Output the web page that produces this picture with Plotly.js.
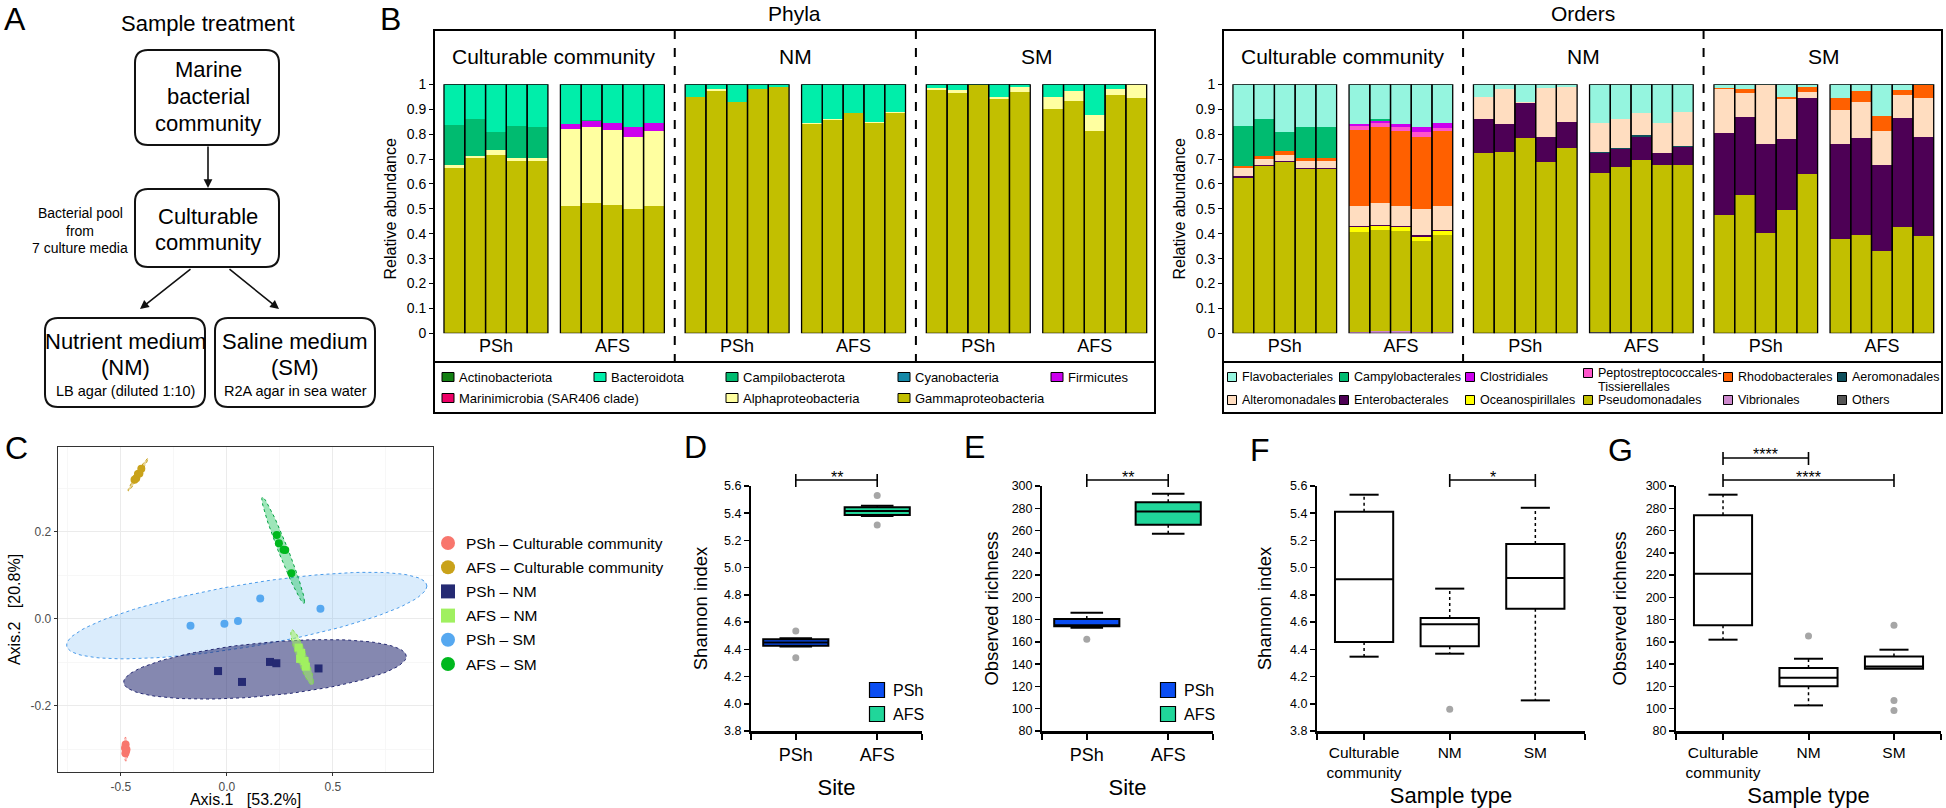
<!DOCTYPE html>
<html><head><meta charset="utf-8">
<script src="https://cdn.plot.ly/plotly-3.0.1.min.js"></script>
<style>html,body{margin:0;padding:0;background:#fff;}#chart{width:1946px;height:808px;}</style>
</head><body><div id="chart"></div>
<script>
// ---------------- DATA ----------------
const sampleTypes = ['Culturable community', 'NM', 'SM'];
const sites = ['PSh', 'AFS'];
// 30 samples: [Cult PSh x5, Cult AFS x5, NM PSh x5, NM AFS x5, SM PSh x5, SM AFS x5]
const phyGamma = [0.662,0.706,0.718,0.693,0.693, 0.512,0.523,0.515,0.499,0.511, 0.948,0.975,0.928,0.981,0.988, 0.842,0.855,0.883,0.846,0.886, 0.977,0.964,0.998,0.940,0.968, 0.900,0.933,0.814,0.958,0.946];
const phyAlpha = [0.014,0.006,0.018,0.013,0.013, 0.307,0.304,0.300,0.288,0.303, 0,0.005,0,0,0, 0.004,0.004,0.003,0.003,0.004, 0.007,0.013,0,0.009,0.021, 0.048,0.042,0.063,0.022,0.054];
const phyMarini = [0,0,0,0,0, 0,0,0,0,0, 0,0,0,0,0, 0,0,0,0,0, 0,0,0,0,0, 0,0,0,0,0];
const phyFirmicutes = [0,0,0,0,0, 0.021,0.026,0.028,0.041,0.031, 0,0,0,0,0, 0,0,0,0,0, 0,0,0,0,0, 0,0,0,0,0];
const phyCyano = [0,0,0,0,0, 0,0,0,0,0, 0,0,0,0,0, 0,0,0,0,0, 0,0,0,0,0, 0,0,0,0,0];
const phyCampilo = [0.159,0.147,0.072,0.126,0.121, 0,0.005,0,0,0, 0,0,0,0,0, 0,0,0,0,0, 0,0,0,0,0, 0,0,0,0,0];
const phyBactero = [0.165,0.141,0.192,0.168,0.173, 0.160,0.142,0.157,0.172,0.155, 0.052,0.020,0.072,0.019,0.012, 0.154,0.141,0.114,0.151,0.110, 0.016,0.023,0.002,0.051,0.011, 0.052,0.025,0.123,0.020,0.000];
const phyActino = [0,0,0,0,0, 0,0,0,0,0, 0,0,0,0,0, 0,0,0,0,0, 0,0,0,0,0, 0,0,0,0,0];

const ordVibrio = [0,0,0,0,0, 0.006,0.008,0.008,0.006,0.006, 0,0,0,0,0, 0,0,0,0,0, 0,0,0,0,0, 0,0,0,0,0];
const ordOthers = [0,0,0,0,0, 0,0,0,0,0, 0,0,0,0,0, 0.004,0.004,0.004,0.004,0, 0,0,0,0,0, 0,0,0,0,0];
const ordPseudo = [0.625,0.672,0.686,0.660,0.660, 0.402,0.406,0.402,0.365,0.388, 0.723,0.729,0.783,0.688,0.743, 0.641,0.662,0.693,0.673,0.677, 0.477,0.556,0.402,0.497,0.639, 0.379,0.394,0.332,0.425,0.390];
const ordOceano = [0,0,0,0,0, 0.017,0.016,0.015,0.016,0.016, 0,0,0,0,0, 0,0,0,0,0, 0,0,0,0,0, 0,0,0,0,0];
const ordEntero = [0.006,0.004,0.006,0.004,0.004, 0.005,0.004,0.005,0.006,0.004, 0.138,0.111,0.141,0.102,0.104, 0.080,0.075,0.093,0.046,0.072, 0.329,0.314,0.357,0.282,0.305, 0.381,0.389,0.342,0.438,0.400];
const ordAero = [0,0,0,0,0, 0,0,0,0,0, 0,0,0,0,0, 0.003,0.003,0.005,0.003,0.003, 0,0,0,0,0, 0,0,0,0,0];
const ordAltero = [0.031,0.026,0.026,0.028,0.029, 0.082,0.089,0.083,0.106,0.097, 0.089,0.140,0.004,0.194,0.144, 0.118,0.116,0.091,0.120,0.137, 0.174,0.094,0.238,0.161,0.027, 0.137,0.147,0.138,0.094,0.154];
const ordRhodo = [0.011,0.010,0.014,0.013,0.012, 0.304,0.304,0.301,0.288,0.301, 0,0,0,0,0, 0,0,0,0,0, 0.004,0.016,0,0.008,0.018, 0.049,0.045,0.062,0.020,0.053];
const ordPepto = [0,0,0,0,0, 0.016,0.019,0.016,0.023,0.014, 0,0,0,0,0, 0,0,0,0,0, 0,0,0,0,0, 0,0,0,0,0];
const ordClostr = [0,0,0,0,0, 0.008,0.008,0.010,0.018,0.017, 0,0,0,0,0, 0,0,0,0,0, 0,0,0,0,0, 0,0,0,0,0];
const ordCampy = [0.159,0.147,0.076,0.125,0.122, 0,0.005,0,0,0, 0,0,0,0,0, 0,0,0,0,0, 0,0,0,0,0, 0,0,0,0,0];
const ordFlavo = [0.168,0.141,0.192,0.170,0.173, 0.160,0.141,0.160,0.172,0.157, 0.050,0.020,0.072,0.016,0.009, 0.154,0.140,0.114,0.154,0.111, 0.016,0.020,0.003,0.052,0.011, 0.054,0.025,0.126,0.023,0.003];

// PCoA (panel C)
const pcoaNames = ['PSh – Culturable community','AFS – Culturable community','PSh – NM','AFS – NM','PSh – SM','AFS – SM'];
const pcoaPShCultX = [-0.478,-0.481,-0.476,-0.479,-0.474];
const pcoaPShCultY = [-0.289,-0.297,-0.303,-0.309,-0.300];
const pcoaAFSCultX = [-0.436,-0.428,-0.420,-0.413,-0.404];
const pcoaAFSCultY = [0.320,0.323,0.333,0.334,0.345];
const pcoaPShNMX = [-0.042,0.071,0.203,0.233,0.432];
const pcoaPShNMY = [-0.120,-0.145,-0.099,-0.102,-0.114];
const pcoaAFSNMX = [0.338,0.350,0.345,0.366,0.372];
const pcoaAFSNMY = [-0.066,-0.078,-0.092,-0.097,-0.110];
const pcoaPShSMX = [-0.172,-0.012,0.052,0.157,0.441];
const pcoaPShSMY = [-0.016,-0.011,-0.005,0.047,0.023];
const pcoaAFSSMX = [0.235,0.245,0.267,0.275,0.304];
const pcoaAFSSMY = [0.193,0.174,0.159,0.158,0.105];

// Panel D (Shannon by site)
const dQ1 = [4.426, 5.387], dMed = [4.450, 5.416], dQ3 = [4.475, 5.443], dLow = [4.420, 5.380], dHigh = [4.482, 5.455];
const dOutliers = [[4.534, 4.338], [5.530, 5.313]];
// Panel E (Observed richness by site)
const eQ1 = [174.0, 265.3], eMed = [175.0, 277.0], eQ3 = [180.5, 285.3], eLow = [172.7, 257.2], eHigh = [186.2, 293.1];
const eOutliers = [[162.3], []];
// Panel F (Shannon by sample type)
const typeLabels = ['Culturable<br>community', 'NM', 'SM'];
const fQ1 = [4.454, 4.422, 4.699], fMed = [4.914, 4.584, 4.924], fQ3 = [5.411, 4.630, 5.174], fLow = [4.346, 4.368, 4.025], fHigh = [5.536, 4.846, 5.440];
const fOutliers = [[], [3.959], []];
// Panel G (Observed richness by sample type)
const gQ1 = [174.9, 120.1, 135.9], gMed = [221.3, 127.8, 138.0], gQ3 = [273.7, 136.5, 147.0], gLow = [162.0, 103.0, 135.9], gHigh = [292.2, 144.9, 153.0];
const gOutliers = [[], [165.3], [174.9, 107.5, 98.5]];

// ---------------- HELPERS ----------------
const F = 'Liberation Sans, Arial, Helvetica, sans-serif';
const W = 1946, H = 808;
const px = v => v / W;
const py = v => 1 - v / H;
const groupStart = k => k * 5 + Math.ceil(k / 2) * 0.6 + Math.floor(k / 2) * 1.0;
const barX = i => groupStart(Math.floor(i / 5)) + (i % 5) + 0.5;
const groupCenters = [0,1,2,3,4,5].map(k => groupStart(k) + 2.5);
const groupLabels = [0,1,2,3,4,5].map(k => sites[k % 2]);

const traces = [];
const shapes = [];
const annotations = [];

function txt(x, y, text, size, opts) {
  return Object.assign({xref:'paper', yref:'paper', x:px(x), y:py(y), text:text, showarrow:false,
    xanchor:'center', yanchor:'middle', font:{size:size, family:F, color:'#000'}}, opts || {});
}
function rectPx(x0, y0, x1, y1, lw, fill) {
  return {type:'rect', xref:'paper', yref:'paper', x0:px(x0), x1:px(x1), y0:py(y1), y1:py(y0),
    line:{color:'#000', width:lw}, fillcolor:fill || 'rgba(0,0,0,0)', layer:'above'};
}
function rrect(x0, y0, x1, y1, r) {
  const X = v => (v / W).toFixed(5), Y = v => (1 - v / H).toFixed(5);
  return {type:'path', xref:'paper', yref:'paper', line:{color:'#111', width:2},
    path:`M${X(x0+r)},${Y(y0)} L${X(x1-r)},${Y(y0)} Q${X(x1)},${Y(y0)} ${X(x1)},${Y(y0+r)} L${X(x1)},${Y(y1-r)} Q${X(x1)},${Y(y1)} ${X(x1-r)},${Y(y1)} L${X(x0+r)},${Y(y1)} Q${X(x0)},${Y(y1)} ${X(x0)},${Y(y1-r)} L${X(x0)},${Y(y0+r)} Q${X(x0)},${Y(y0)} ${X(x0+r)},${Y(y0)} Z`};
}
function arrow(tx, ty, hx, hy) {
  return {xref:'paper', yref:'paper', x:px(hx), y:py(hy), ax:tx - hx, ay:ty - hy, axref:'pixel', ayref:'pixel',
    text:'', showarrow:true, arrowhead:2, arrowsize:1.1, arrowwidth:1.6, arrowcolor:'#111'};
}

// ---------------- PANEL A ----------------
annotations.push(txt(15, 19, 'A', 32));
annotations.push(txt(208, 23, 'Sample treatment', 22));
shapes.push(rrect(135, 50, 279, 145, 13));
shapes.push(rrect(135, 189, 279, 267, 13));
shapes.push(rrect(45, 318, 205, 407, 13));
shapes.push(rrect(215, 318, 375, 407, 13));
annotations.push(txt(208, 70, 'Marine', 22), txt(208, 96, 'bacterial', 22), txt(208, 123, 'community', 22));
annotations.push(txt(208, 216, 'Culturable', 22), txt(208, 243, 'community', 22));
annotations.push(txt(80, 213, 'Bacterial pool', 14), txt(80, 231, 'from', 14), txt(80, 248, '7 culture media', 14));
annotations.push(txt(125, 342, 'Nutrient medium', 22), txt(125, 368, '(NM)', 22), txt(125, 391, 'LB agar (diluted 1:10)', 14.5));
annotations.push(txt(295, 342, 'Saline medium', 22), txt(295, 368, '(SM)', 22), txt(295, 391, 'R2A agar in sea water', 14.5));
annotations.push(arrow(208, 145, 208, 188));
annotations.push(arrow(192, 268, 140, 309));
annotations.push(arrow(228, 268, 279, 309));

// ---------------- PANEL B ----------------
annotations.push(txt(390, 19, 'B', 32));
const phylaSeries = [
  {name:'Gammaproteobacteria', values:phyGamma, color:'#C2BF00'},
  {name:'Alphaproteobacteria', values:phyAlpha, color:'#FFFFA0'},
  {name:'Marinimicrobia (SAR406 clade)', values:phyMarini, color:'#EE0066'},
  {name:'Firmicutes', values:phyFirmicutes, color:'#CC00EE'},
  {name:'Cyanobacteria', values:phyCyano, color:'#1489A8'},
  {name:'Campilobacterota', values:phyCampilo, color:'#00BB70'},
  {name:'Bacteroidota', values:phyBactero, color:'#00EEAA'},
  {name:'Actinobacteriota', values:phyActino, color:'#127F12'}
];
const orderSeries = [
  {name:'Vibrionales', values:ordVibrio, color:'#CC88CC'},
  {name:'Others', values:ordOthers, color:'#555555'},
  {name:'Pseudomonadales', values:ordPseudo, color:'#C2BF00'},
  {name:'Oceanospirillales', values:ordOceano, color:'#FFFF00'},
  {name:'Enterobacterales', values:ordEntero, color:'#4D0055'},
  {name:'Aeromonadales', values:ordAero, color:'#0D4F5C'},
  {name:'Alteromonadales', values:ordAltero, color:'#FFDDC0'},
  {name:'Rhodobacterales', values:ordRhodo, color:'#FF6000'},
  {name:'Peptostreptococcales-Tissierellales', values:ordPepto, color:'#FF55CC'},
  {name:'Clostridiales', values:ordClostr, color:'#CC00EE'},
  {name:'Campylobacterales', values:ordCampy, color:'#00BB70'},
  {name:'Flavobacteriales', values:ordFlavo, color:'#95F5DF'}
];
function stackTraces(series, xa, ya) {
  const n = series[0].values.length;
  const base = new Array(n).fill(0);
  const xs = [];
  for (let i = 0; i < n; i++) xs.push(barX(i));
  series.forEach(s => {
    traces.push({type:'bar', x:xs, y:s.values, base:base.slice(), width:1, name:s.name,
      marker:{color:s.color, line:{width:0}}, xaxis:xa, yaxis:ya, showlegend:false});
    s.values.forEach((v, i) => { base[i] += v; });
  });
  traces.push({type:'bar', x:xs, y:base.slice(), base:0, width:1, hoverinfo:'skip',
    marker:{color:'rgba(0,0,0,0)', line:{color:'#000', width:1.3}}, xaxis:xa, yaxis:ya, showlegend:false});
}
stackTraces(phylaSeries, 'x', 'y');
stackTraces(orderSeries, 'x2', 'y2');

function barPanel(xa, left, right, title, legendCols) {
  annotations.push(txt((left + right) / 2, 13, title, 21));
  shapes.push(rectPx(left, 30, right, 362, 2));
  shapes.push(rectPx(left, 362, right, 413, 2));
  [groupStart(2) - 0.5, groupStart(4) - 0.5].forEach(xv => {
    shapes.push({type:'line', xref:xa, yref:'paper', x0:xv, x1:xv, y0:py(30), y1:py(362),
      line:{color:'#000', width:2, dash:'dash'}});
  });
  sampleTypes.forEach((t, k) => {
    annotations.push({xref:xa, yref:'paper', x:(groupStart(2*k) + groupStart(2*k+1) + 5) / 2, y:py(56),
      text:t, showarrow:false, xanchor:'center', yanchor:'middle', font:{size:21, family:F, color:'#000'}});
  });
}
barPanel('x', 434, 1155, 'Phyla');
barPanel('x2', 1223, 1942, 'Orders');

function legendItem(cx, cy, color, label, size, bw, bh) {
  shapes.push({type:'rect', xref:'paper', yref:'paper', x0:px(cx - bw/2), x1:px(cx + bw/2), y0:py(cy + bh/2), y1:py(cy - bh/2),
    fillcolor:color, line:{color:'#000', width:1}, layer:'above'});
  annotations.push(txt(cx + bw/2 + 3, cy, label, size, {xanchor:'left'}));
}
const phColor = n => phylaSeries.find(s => s.name === n).color;
const orColor = n => orderSeries.find(s => s.name === n).color;
legendItem(448, 377, phColor('Actinobacteriota'), 'Actinobacteriota', 13, 12, 9);
legendItem(600, 377, phColor('Bacteroidota'), 'Bacteroidota', 13, 12, 9);
legendItem(732, 377, phColor('Campilobacterota'), 'Campilobacterota', 13, 12, 9);
legendItem(904, 377, phColor('Cyanobacteria'), 'Cyanobacteria', 13, 12, 9);
legendItem(1057, 377, phColor('Firmicutes'), 'Firmicutes', 13, 12, 9);
legendItem(448, 398, phColor('Marinimicrobia (SAR406 clade)'), 'Marinimicrobia (SAR406 clade)', 13, 12, 9);
legendItem(732, 398, phColor('Alphaproteobacteria'), 'Alphaproteobacteria', 13, 12, 9);
legendItem(904, 398, phColor('Gammaproteobacteria'), 'Gammaproteobacteria', 13, 12, 9);

const oCols = [1232, 1344, 1470, 1588, 1728, 1842];
legendItem(oCols[0], 377, orColor('Flavobacteriales'), 'Flavobacteriales', 12.5, 9, 9);
legendItem(oCols[1], 377, orColor('Campylobacterales'), 'Campylobacterales', 12.5, 9, 9);
legendItem(oCols[2], 377, orColor('Clostridiales'), 'Clostridiales', 12.5, 9, 9);
legendItem(oCols[3], 373, orColor('Peptostreptococcales-Tissierellales'), 'Peptostreptococcales-', 12.5, 9, 9);
annotations.push(txt(oCols[3] + 7.5, 387, 'Tissierellales', 12.5, {xanchor:'left'}));
legendItem(oCols[4], 377, orColor('Rhodobacterales'), 'Rhodobacterales', 12.5, 9, 9);
legendItem(oCols[5], 377, orColor('Aeromonadales'), 'Aeromonadales', 12.5, 9, 9);
legendItem(oCols[0], 400, orColor('Alteromonadales'), 'Alteromonadales', 12.5, 9, 9);
legendItem(oCols[1], 400, orColor('Enterobacterales'), 'Enterobacterales', 12.5, 9, 9);
legendItem(oCols[2], 400, orColor('Oceanospirillales'), 'Oceanospirillales', 12.5, 9, 9);
legendItem(oCols[3], 400, orColor('Pseudomonadales'), 'Pseudomonadales', 12.5, 9, 9);
legendItem(oCols[4], 400, orColor('Vibrionales'), 'Vibrionales', 12.5, 9, 9);
legendItem(oCols[5], 400, orColor('Others'), 'Others', 12.5, 9, 9);

// ---------------- PANEL C ----------------
annotations.push(txt(16, 448, 'C', 32));
function ellipsePts(xs, ys, r) {
  const n = xs.length;
  const mx = xs.reduce((a, b) => a + b, 0) / n, my = ys.reduce((a, b) => a + b, 0) / n;
  let sxx = 0, syy = 0, sxy = 0;
  for (let i = 0; i < n; i++) { sxx += (xs[i]-mx)**2; syy += (ys[i]-my)**2; sxy += (xs[i]-mx)*(ys[i]-my); }
  sxx /= (n-1); syy /= (n-1); sxy /= (n-1);
  const l11 = Math.sqrt(sxx), l21 = sxy / l11, l22 = Math.sqrt(Math.max(syy - l21*l21, 1e-12));
  const ex = [], ey = [];
  for (let k = 0; k <= 120; k++) {
    const t = 2 * Math.PI * k / 120, c = Math.cos(t), s = Math.sin(t);
    ex.push(mx + r * l11 * c); ey.push(my + r * (l21 * c + l22 * s));
  }
  return [ex, ey];
}
const R_ELL = Math.sqrt(2 * 6.944); // t-ellipse scale, 95%, n=5
const pcoaGroups = [
  {xs:pcoaPShSMX, ys:pcoaPShSMY, color:'#56A8F0', line:'#4A9BEA', fill:'rgba(86,168,240,0.22)', symbol:'circle'},
  {xs:pcoaPShNMX, ys:pcoaPShNMY, color:'#252A73', line:'#252A73', fill:'rgba(37,42,115,0.56)', symbol:'square'},
  {xs:pcoaAFSSMX, ys:pcoaAFSSMY, color:'#00B81E', line:'#00A040', fill:'rgba(0,190,70,0.38)', symbol:'circle'},
  {xs:pcoaAFSNMX, ys:pcoaAFSNMY, color:'#A0F060', line:'#7CD84A', fill:'rgba(160,240,96,0.55)', symbol:'square'},
  {xs:pcoaPShCultX, ys:pcoaPShCultY, color:'#F8766D', line:'#F8766D', fill:'rgba(248,118,109,0.45)', symbol:'circle'},
  {xs:pcoaAFSCultX, ys:pcoaAFSCultY, color:'#C9A21A', line:'#C9A21A', fill:'rgba(201,162,26,0.45)', symbol:'circle'}
];
pcoaGroups.forEach(g => {
  const [ex, ey] = ellipsePts(g.xs, g.ys, R_ELL);
  traces.push({type:'scatter', mode:'lines', x:ex, y:ey, fill:'toself', fillcolor:g.fill,
    line:{color:g.line, width:1, dash:'dot'}, xaxis:'x3', yaxis:'y3', showlegend:false, hoverinfo:'skip'});
});
const pcoaOrder = [4, 5, 1, 3, 0, 2];
pcoaGroups.forEach((g, i) => {
  traces.push({type:'scatter', mode:'markers', x:g.xs, y:g.ys, name:pcoaNames[[4,1,5,3,0,2][i]],
    marker:{color:g.color, size:8, symbol:g.symbol}, xaxis:'x3', yaxis:'y3', showlegend:false});
});
// legend C
const legCols = [pcoaGroups[4], pcoaGroups[5], pcoaGroups[1], pcoaGroups[3], pcoaGroups[0], pcoaGroups[2]];
legCols.forEach((g, i) => {
  const cy = 543 + i * 24.2, cx = 448;
  shapes.push({type:g.symbol === 'circle' ? 'circle' : 'rect', xref:'paper', yref:'paper',
    x0:px(cx - 7), x1:px(cx + 7), y0:py(cy + 7), y1:py(cy - 7), fillcolor:g.color, line:{width:0}});
  annotations.push(txt(cx + 16, cy, pcoaNames[i], 15.5, {xanchor:'left'}));
});

// ---------------- PANELS D–G ----------------
function boxPanel(xa, ya, q1, med, q3, lo, hi, outs, fills, boxW, capHalf) {
  q1.forEach((v, i) => {
    traces.push({type:'box', x:[i], q1:[q1[i]], median:[med[i]], q3:[q3[i]], lowerfence:[q1[i]], upperfence:[q3[i]],
      width:boxW, whiskerwidth:0, boxpoints:false, fillcolor:fills[i], line:{color:'#000', width:2},
      xaxis:xa, yaxis:ya, showlegend:false, hoverinfo:'skip'});
  });
  const wx = [], wy = [], cx = [], cy = [];
  q1.forEach((v, i) => {
    if (hi[i] > q3[i]) { wx.push(i, i, null); wy.push(q3[i], hi[i], null); cx.push(i - capHalf, i + capHalf, null); cy.push(hi[i], hi[i], null); }
    if (lo[i] < q1[i]) { wx.push(i, i, null); wy.push(q1[i], lo[i], null); cx.push(i - capHalf, i + capHalf, null); cy.push(lo[i], lo[i], null); }
  });
  traces.push({type:'scatter', mode:'lines', x:wx, y:wy, line:{color:'#000', width:1.5, dash:'dot'}, xaxis:xa, yaxis:ya, showlegend:false, hoverinfo:'skip'});
  traces.push({type:'scatter', mode:'lines', x:cx, y:cy, line:{color:'#000', width:2}, xaxis:xa, yaxis:ya, showlegend:false, hoverinfo:'skip'});
  const ox = [], oy = [];
  outs.forEach((arr, i) => arr.forEach(v => { ox.push(i); oy.push(v); }));
  traces.push({type:'scatter', mode:'markers', x:ox, y:oy, marker:{color:'#A6A6A6', size:7}, xaxis:xa, yaxis:ya, showlegend:false, cliponaxis:false});
}
boxPanel('x4', 'y4', dQ1, dMed, dQ3, dLow, dHigh, dOutliers, ['#0A4DF2', '#20D69A'], 0.8, 0.2);
boxPanel('x5', 'y5', eQ1, eMed, eQ3, eLow, eHigh, eOutliers, ['#0A4DF2', '#20D69A'], 0.8, 0.2);
boxPanel('x6', 'y6', fQ1, fMed, fQ3, fLow, fHigh, fOutliers, ['#FFFFFF', '#FFFFFF', '#FFFFFF'], 0.68, 0.17);
boxPanel('x7', 'y7', gQ1, gMed, gQ3, gLow, gHigh, gOutliers, ['#FFFFFF', '#FFFFFF', '#FFFFFF'], 0.68, 0.17);

function bracket(xa, a, b, yline, label) {
  shapes.push({type:'line', xref:xa, yref:'paper', x0:a, x1:b, y0:py(yline), y1:py(yline), line:{color:'#000', width:1.6}});
  shapes.push({type:'line', xref:xa, yref:'paper', x0:a, x1:a, y0:py(yline - 6), y1:py(yline + 7), line:{color:'#000', width:1.6}});
  shapes.push({type:'line', xref:xa, yref:'paper', x0:b, x1:b, y0:py(yline - 6), y1:py(yline + 7), line:{color:'#000', width:1.6}});
  annotations.push({xref:xa, yref:'paper', x:(a + b) / 2, y:py(yline - 3), text:label, showarrow:false,
    xanchor:'center', yanchor:'middle', font:{size:16, family:F, color:'#000'}});
}
bracket('x4', 0, 1, 480, '**');
bracket('x5', 0, 1, 480, '**');
bracket('x6', 1, 2, 480, '*');
bracket('x7', 0, 1, 458, '****');
bracket('x7', 0, 2, 480, '****');

annotations.push(txt(695, 447, 'D', 32), txt(975, 447, 'E', 32), txt(1260, 450, 'F', 32), txt(1620, 450, 'G', 32));
function siteLegend(cx, labels, fills) {
  labels.forEach((l, i) => {
    const cy = 690 + i * 24;
    shapes.push({type:'rect', xref:'paper', yref:'paper', x0:px(cx - 7.5), x1:px(cx + 7.5), y0:py(cy + 7.5), y1:py(cy - 7.5),
      fillcolor:fills[i], line:{color:'#000', width:1.2}});
    annotations.push(txt(cx + 14, cy, l, 16, {xanchor:'left'}));
  });
}
siteLegend(877, sites, ['#0A4DF2', '#20D69A']);
siteLegend(1168, sites, ['#0A4DF2', '#20D69A']);

// ---------------- LAYOUT ----------------
function barXAxis(l, r, anchor) {
  return {domain:[px(l), px(r)], range:[-0.48, 34.2], anchor:anchor, tickvals:groupCenters, ticktext:groupLabels,
    ticks:'', showline:false, showgrid:false, zeroline:false, tickfont:{size:18}, fixedrange:true};
}
function barYAxis(anchor) {
  return {domain:[py(333.3), py(84.3)], range:[0, 1], anchor:anchor, dtick:0.1, tick0:0, ticks:'outside', ticklen:4,
    tickcolor:'#000', showline:false, showgrid:false, zeroline:false, tickfont:{size:14},
    title:{text:'Relative abundance', font:{size:16}, standoff:6}, fixedrange:true};
}
function prismY(top, bottom, left, right, range, dtick, fmt, title, standoff, anchor) {
  return {domain:[py(bottom), py(top)], range:range, dtick:dtick, tick0:range[0], tickformat:fmt, anchor:anchor,
    ticks:'outside', ticklen:5, tickwidth:1.5, tickcolor:'#000', showline:true, linewidth:2, linecolor:'#000',
    showgrid:false, zeroline:false, tickfont:{size:12.5}, title:{text:title, font:{size:18.5}, standoff:standoff}, fixedrange:true};
}
function prismX(l, r, range, labels, title, size, anchor) {
  const vals = [range[0]].concat(labels.map((_, i) => i)).concat([range[1]]);
  const texts = [''].concat(labels).concat(['']);
  return {domain:[px(l), px(r)], range:range, anchor:anchor, tickvals:vals, ticktext:texts, ticks:'outside', ticklen:6,
    tickwidth:2, tickcolor:'#000', showline:true, linewidth:2.5, linecolor:'#000', showgrid:false, zeroline:false,
    tickfont:{size:size}, title:{text:title, font:{size:22}, standoff:16}, fixedrange:true};
}

const layout = {
  width:W, height:H, margin:{l:0, r:0, t:0, b:0}, paper_bgcolor:'#fff', plot_bgcolor:'rgba(0,0,0,0)',
  font:{family:F, color:'#000'}, showlegend:false, barmode:'overlay', bargap:0,
  xaxis: barXAxis(434, 1155, 'y'), yaxis: barYAxis('x'),
  xaxis2: barXAxis(1223, 1942, 'y2'), yaxis2: barYAxis('x2'),
  xaxis3: {domain:[px(58), px(433)], range:[-0.797, 0.972], anchor:'y3', tickvals:[-0.5, 0, 0.5], ticktext:['-0.5', '0.0', '0.5'],
    showgrid:true, gridcolor:'#EBEBEB', gridwidth:1, minor:{tickvals:[-0.75, -0.25, 0.25, 0.75], showgrid:true, gridcolor:'#F5F5F5', gridwidth:0.8},
    zeroline:false, showline:true, mirror:true, linecolor:'#333', linewidth:1.3, ticks:'outside', ticklen:3, tickcolor:'#333',
    tickfont:{size:12, color:'#4D4D4D'}, title:{text:'Axis.1\u00a0\u00a0\u00a0[53.2%]', font:{size:16}, standoff:2}, fixedrange:true},
  yaxis3: {domain:[py(772), py(447)], range:[-0.352, 0.395], anchor:'x3', tickvals:[-0.2, 0, 0.2], ticktext:['-0.2', '0.0', '0.2'],
    showgrid:true, gridcolor:'#EBEBEB', gridwidth:1, minor:{tickvals:[-0.3, -0.1, 0.1, 0.3], showgrid:true, gridcolor:'#F5F5F5', gridwidth:0.8},
    zeroline:false, showline:true, mirror:true, linecolor:'#333', linewidth:1.3, ticks:'outside', ticklen:3, tickcolor:'#333',
    tickfont:{size:12, color:'#4D4D4D'}, title:{text:'Axis.2\u00a0\u00a0\u00a0[20.8%]', font:{size:16}, standoff:6}, fixedrange:true},
  xaxis4: prismX(751, 922, [-0.55, 1.55], sites, 'Site', 18, 'y4'),
  yaxis4: prismY(486, 731, 751, 922, [3.8, 5.6], 0.2, '.1f', 'Shannon index', 12, 'x4'),
  xaxis5: prismX(1042, 1213, [-0.55, 1.55], sites, 'Site', 18, 'y5'),
  yaxis5: prismY(486, 731, 1042, 1213, [80, 300], 20, 'd', 'Observed richness', 8, 'x5'),
  xaxis6: prismX(1317, 1585, [-0.55, 2.58], typeLabels, 'Sample type', 15.5, 'y6'),
  yaxis6: prismY(486, 731, 1317, 1585, [3.8, 5.6], 0.2, '.1f', 'Shannon index', 14, 'x6'),
  xaxis7: prismX(1676, 1941, [-0.55, 2.55], typeLabels, 'Sample type', 15.5, 'y7'),
  yaxis7: prismY(486, 731, 1676, 1941, [80, 300], 20, 'd', 'Observed richness', 14, 'x7'),
  shapes:shapes, annotations:annotations
};
Plotly.newPlot('chart', traces, layout, {staticPlot:true, responsive:false});
</script></body></html>
